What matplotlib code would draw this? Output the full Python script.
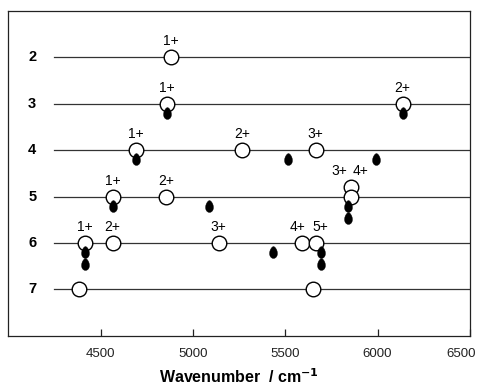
import matplotlib
matplotlib.use("Agg")
import matplotlib.pyplot as plt
import matplotlib.transforms as mtransforms
import numpy as np

plt.rcParams['font.family'] = ['Liberation Sans', 'DejaVu Sans']

# levels (rows) shown on the left
rows = [2, 3, 4, 5, 6, 7]

# open circles: row, wavenumber, charge label
circle_row = [2, 3, 3, 4, 4, 4, 5, 5, 5, 5, 6, 6, 6, 6, 6, 7, 7]
circle_nu = [4880, 4860, 6135, 4690, 5265, 5665, 4565, 4855, 5855, 5855,
             4415, 4565, 5140, 5590, 5665, 4385, 5650]
circle_lab = ['1+', '1+', '2+', '1+', '2+', '3+', '1+', '2+', '3+', '4+',
              '1+', '2+', '3+', '4+', '5+', '', '']

# filled drops: row, wavenumber, stack level below the line
drop_row = [3, 3, 4, 4, 4, 5, 5, 5, 5, 6, 6, 6, 6, 6]
drop_nu = [4860, 6135, 4690, 5515, 5990, 4565, 5090, 5840, 5840,
           4415, 4415, 5435, 5695, 5695]
drop_level = [1, 1, 1, 1, 1, 1, 1, 1, 2, 1, 2, 1, 1, 2]

xticks = [4500, 5000, 5500, 6000, 6500]

# teardrop marker (narrow end up)
t = np.linspace(0, 2 * np.pi, 80)
drop_marker = np.column_stack([0.75 * np.sin(t) * (0.55 + 0.45 * np.abs(np.sin(t / 2))),
                               np.cos(t)])

fig = plt.figure(figsize=(4.8, 3.9), dpi=100)
ax = fig.add_axes([0.017, 0.139, 0.962, 0.833])

for r in rows:
    ax.plot([4250, 6500], [r, r], color='#333333', lw=0.9, zorder=1)
    ax.text(4130, r, str(r), ha='center', va='center', fontsize=10.5,
            fontweight='bold')

# small shift so the overlapping 3+/4+ pair in row 5 is readable
circle_y = []
for r, lab in zip(circle_row, circle_lab):
    if r == 5 and lab == '3+':
        circle_y.append(r - 0.2)
    else:
        circle_y.append(r)

ax.plot(circle_nu, circle_y, 'o', ms=10.5, mfc='white', mec='black', mew=1.0,
        ls='none', zorder=3)

drop_y = [r + 0.2 + (lv - 1) * 0.26 for r, lv in zip(drop_row, drop_level)]
ax.plot(drop_nu, drop_y, ls='none', marker=drop_marker, ms=8.5, color='black',
        mew=0.3, zorder=4)

for x, y, r, lab in zip(circle_nu, circle_y, circle_row, circle_lab):
    if not lab:
        continue
    dx, dy = 0, 6.5
    if r == 5 and lab == '3+':
        dx = -8
    elif r == 5 and lab == '4+':
        dx, dy = 7, 13.3
    elif r == 6 and lab == '4+':
        dx = -3
    elif r == 6 and lab == '5+':
        dx = 3
    ax.annotate(lab, (x, y), xytext=(dx, dy), textcoords='offset points',
                ha='center', va='bottom', fontsize=10)

ax.set_xlim(4000, 6500)
ax.set_ylim(8, 1)
ax.set_yticks([])
ax.set_xticks(xticks)
ax.tick_params(axis='x', direction='in', length=5, width=0.9, pad=9,
               labelsize=9.5, colors='#222222')
for s in ax.spines.values():
    s.set_color('#222222')
    s.set_linewidth(0.9)

# last tick label sits a little to the left so it stays on the page
lab6500 = ax.get_xticklabels()[-1]
lab6500.set_transform(lab6500.get_transform() +
                      mtransforms.ScaledTranslation(-6 / 72, 0, fig.dpi_scale_trans))

ax.set_xlabel('Wavenumber  / cm$^{\\mathbf{-1}}$', fontsize=11.5, fontweight='bold',
              labelpad=5)

fig.savefig('out.png', dpi=100)
